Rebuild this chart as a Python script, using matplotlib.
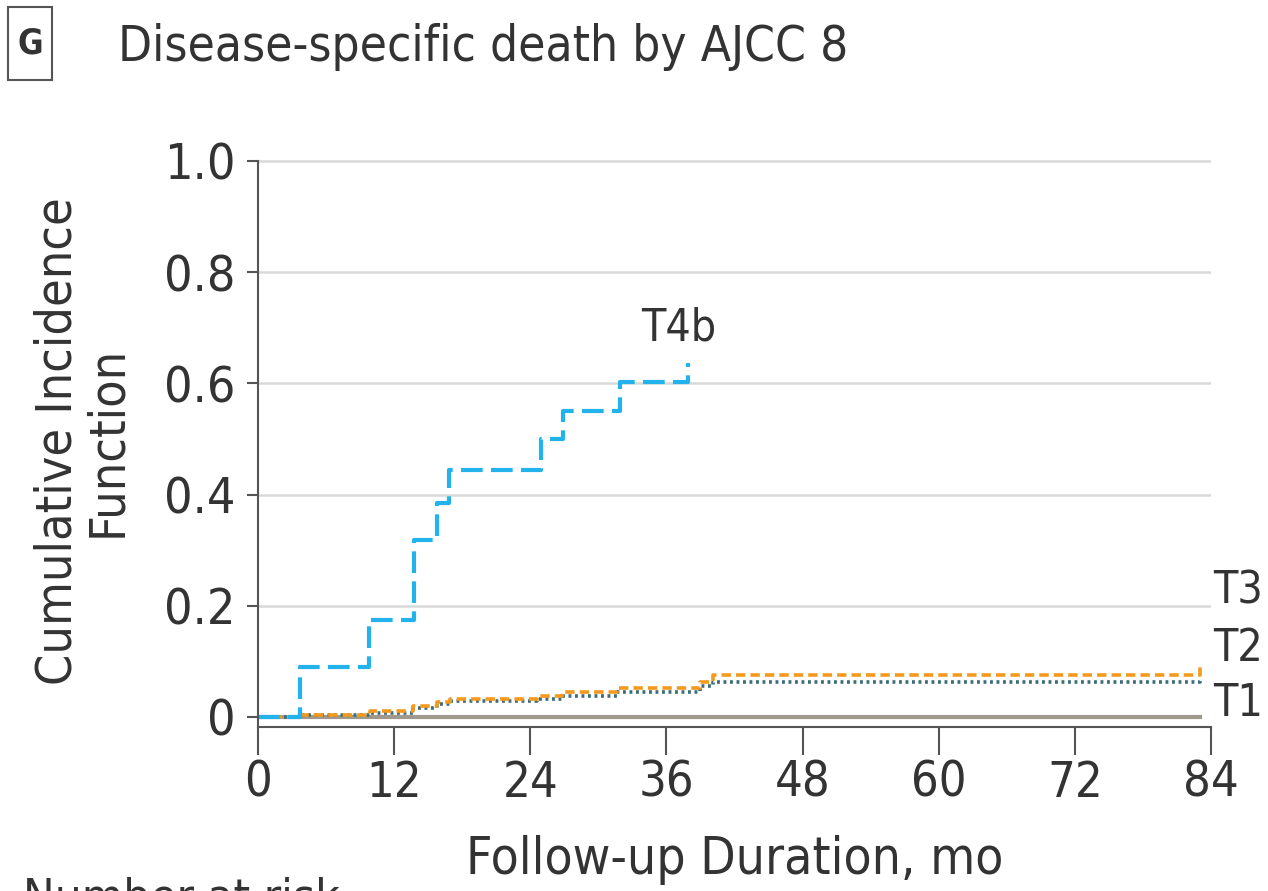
import matplotlib
matplotlib.use("Agg")
import matplotlib.pyplot as plt
from matplotlib.patches import Rectangle

plt.rcParams["font.family"] = ["DejaVu Sans"]
plt.rcParams["font.stretch"] = "condensed"

# step curves (months, cumulative incidence)
t4b_time = [0, 3.7, 9.8, 13.75, 15.8, 16.8, 24.9, 26.9, 31.9, 37.9]
t4b_cif = [0, 0.090, 0.175, 0.318, 0.385, 0.445, 0.500, 0.551, 0.603, 0.637]

t3_time = [0, 3.7, 9.9, 13.7, 15.8, 16.9, 24.6, 26.8, 31.6, 39.0, 40.1, 83.0]
t3_cif = [0, 0.004, 0.010, 0.020, 0.027, 0.033, 0.037, 0.044, 0.052, 0.063, 0.075, 0.095]

t2_time = [0, 3.7, 9.9, 13.7, 15.8, 16.9, 24.6, 26.8, 31.6, 39.0, 40.1, 83.0]
t2_cif = [0, 0.003, 0.008, 0.017, 0.024, 0.028, 0.032, 0.038, 0.044, 0.055, 0.063, 0.070]

t1_time = [0, 83.0]
t1_cif = [0, 0]

x_ticks = [0, 12, 24, 36, 48, 60, 72, 84]
y_ticks = [0, 0.2, 0.4, 0.6, 0.8, 1.0]
y_tick_labels = ["0", "0.2", "0.4", "0.6", "0.8", "1.0"]

txt = "#333333"

fig = plt.figure(figsize=(12.68, 8.91), dpi=100)
ax = fig.add_axes([0.2035, 0.1841, 0.7515, 0.6415])

ax.step(t1_time, t1_cif, where="post", color="#a09a8e", linewidth=3)
ax.step(t2_time, t2_cif, where="post", color="#3d6d79", linewidth=2.6, linestyle=(0, (0.8, 1.0)))
ax.step(t3_time, t3_cif, where="post", color="#f39a1e", linewidth=2.6, linestyle=(0, (2.6, 1.4)))
ax.step(t4b_time, t4b_cif, where="post", color="#22b2ec", linewidth=3.0, linestyle=(0, (5.2, 2.0)))

ax.set_xlim(0, 84)
ax.set_ylim(-0.018, 1.01)
ax.set_xticks(x_ticks)
ax.set_yticks(y_ticks)
ax.set_yticklabels(y_tick_labels)
ax.tick_params(axis="x", labelsize=35, length=20, width=1.5, color="#555555", labelcolor=txt, pad=3)
ax.tick_params(axis="y", labelsize=36, length=8, width=1.5, color="#555555", labelcolor=txt, pad=8)

for y in y_ticks[1:]:
    ax.axhline(y, color="#d9d9d9", linewidth=1.8, zorder=0)

for side in ("top", "right"):
    ax.spines[side].set_visible(False)
for side in ("left", "bottom"):
    ax.spines[side].set_color("#555555")
    ax.spines[side].set_linewidth(1.5)
ax.spines["left"].set_bounds(-0.018, 1.0)

ax.set_ylabel("Cumulative Incidence\nFunction", fontsize=36, linespacing=1.05, labelpad=24, color=txt)
ax.set_xlabel("Follow-up Duration, mo", fontsize=37, labelpad=20, color=txt)

ax.text(37.1, 0.70, "T4b", fontsize=32, ha="center", va="center", color=txt)
for label, y in (("T3", 0.227), ("T2", 0.124), ("T1", 0.025)):
    ax.text(84.2, y, label, fontsize=32, ha="left", va="center", color=txt, clip_on=False)

fig.add_artist(Rectangle((0.0063, 0.9102), 0.0347, 0.0819, transform=fig.transFigure,
                         facecolor="white", edgecolor="#555555", linewidth=1.5))
fig.text(0.0237, 0.951, "G", fontsize=25, fontweight="bold", ha="center", va="center", color=txt)
fig.text(0.093, 0.947, "Disease-specific death by AJCC 8", fontsize=35.5, ha="left", va="center",
         color=txt)
fig.text(0.018, -0.009, "Number at risk", fontsize=34, ha="left", va="center", color=txt)

fig.savefig("out.png", dpi=100)
